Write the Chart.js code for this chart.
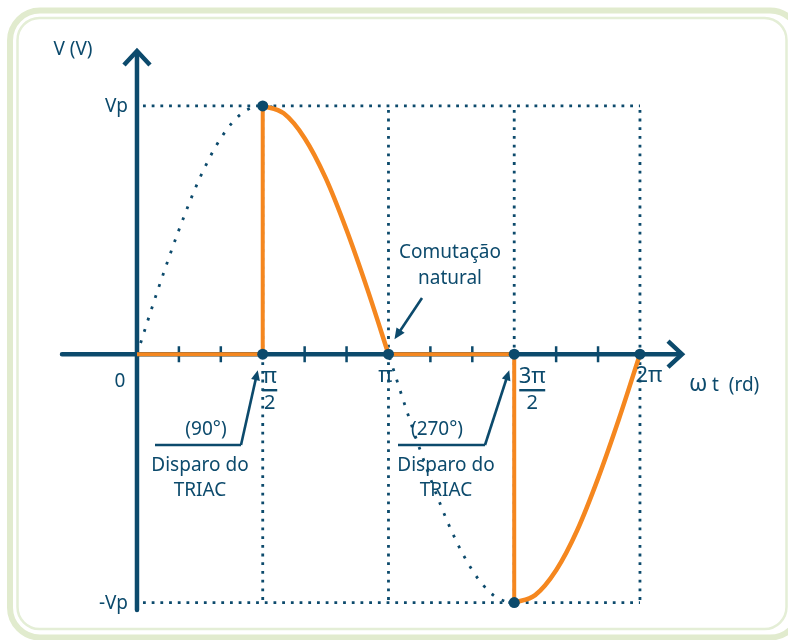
<!DOCTYPE html>
<html>
<head>
<meta charset="UTF-8">
<title>Disparo do TRIAC</title>
<script src="https://cdn.jsdelivr.net/npm/chart.js"></script>
<style>
  body { margin: 0; background: #fff; }
  #wrap { width: 788px; height: 640px; }
</style>
</head>
<body>
<div id="wrap"><canvas id="triacChart" width="788" height="640"></canvas></div>
<script>
  // ângulos em graus (passo de 15°) e tensão da rede normalizada (Vp = 1)
  const angles = [0, 15, 30, 45, 60, 75, 90, 105, 120, 135, 150, 165, 180,
                  195, 210, 225, 240, 255, 270, 285, 300, 315, 330, 345, 360];
  const sourceV = [0, 0.26, 0.5, 0.71, 0.87, 0.97, 1, 0.97, 0.87, 0.71, 0.5, 0.26, 0,
                   -0.26, -0.5, -0.71, -0.87, -0.97, -1, -0.97, -0.87, -0.71, -0.5, -0.26, 0];
  // ângulos de disparo do TRIAC
  const firingAngles = [90, 270];
  // marcas do eixo ωt
  const tickAngles = [0, 90, 180, 270, 360];
  const tickLabels = ['0', 'π/2', 'π', '3π/2', '2π'];
  const minorTicks = [30, 60, 120, 150, 210, 240, 300, 330];
  const levelValues = [1, -1];
  const levelLabels = ['Vp', '-Vp'];

  const NAVY = '#0c4a6c';
  const ORANGE = '#f5871f';
  const FONT = '"Noto Sans", "Open Sans", sans-serif';

  const pts = (from, to) => angles
    .map((a, i) => ({ x: a, y: sourceV[i] }))
    .filter(p => p.x >= from && p.x <= to);

  // tensão na carga: zero até o disparo, depois segue a rede
  const loadFlat = [];
  const loadCurve = [];
  firingAngles.forEach((fa, k) => {
    const start = k * 180;
    const vAtFire = sourceV[angles.indexOf(fa)];
    loadFlat.push([{ x: start, y: 0 }, { x: fa, y: 0 }, { x: fa, y: vAtFire }]);
    loadCurve.push(pts(fa, start + 180));
  });

  const markers = [];
  firingAngles.forEach((fa, k) => {
    markers.push({ x: fa, y: sourceV[angles.indexOf(fa)] }, { x: fa, y: 0 });
    markers.push({ x: (k + 1) * 180, y: 0 });
  });

  function dotted(ctx, x1, y1, x2, y2) {
    ctx.save();
    ctx.strokeStyle = NAVY;
    ctx.lineWidth = 2.8;
    ctx.setLineDash([2.8, 5.9]);
    ctx.beginPath();
    ctx.moveTo(x1, y1);
    ctx.lineTo(x2, y2);
    ctx.stroke();
    ctx.restore();
  }

  function arrowTo(ctx, x1, y1, x2, y2, head) {
    const ang = Math.atan2(y2 - y1, x2 - x1);
    ctx.beginPath();
    ctx.moveTo(x1, y1);
    ctx.lineTo(x2 - Math.cos(ang) * head * 0.6, y2 - Math.sin(ang) * head * 0.6);
    ctx.stroke();
    ctx.beginPath();
    ctx.moveTo(x2, y2);
    ctx.lineTo(x2 - head * Math.cos(ang - 0.42), y2 - head * Math.sin(ang - 0.42));
    ctx.lineTo(x2 - head * Math.cos(ang + 0.42), y2 - head * Math.sin(ang + 0.42));
    ctx.closePath();
    ctx.fill();
  }

  function roundRect(ctx, x, y, w, h, r) {
    ctx.beginPath();
    ctx.moveTo(x + r, y);
    ctx.arcTo(x + w, y, x + w, y + h, r);
    ctx.arcTo(x + w, y + h, x, y + h, r);
    ctx.arcTo(x, y + h, x, y, r);
    ctx.arcTo(x, y, x + w, y, r);
    ctx.closePath();
  }

  // moldura, eixos e linhas de referência
  const backdrop = {
    id: 'backdrop',
    beforeDraw(chart) {
      const ctx = chart.ctx;
      ctx.save();
      ctx.strokeStyle = '#e1ebce';
      ctx.lineWidth = 6;
      roundRect(ctx, 10, 10.5, 790, 627, 30);
      ctx.stroke();
      ctx.lineWidth = 2.5;
      ctx.strokeStyle = '#e4eed6';
      roundRect(ctx, 17.5, 18, 769, 611, 22);
      ctx.stroke();
      ctx.restore();
    },
    beforeDatasetsDraw(chart) {
      const ctx = chart.ctx;
      const xs = chart.scales.x, ys = chart.scales.y;
      const x0 = xs.getPixelForValue(0), x360 = xs.getPixelForValue(360);
      const yTop = ys.getPixelForValue(1), yBot = ys.getPixelForValue(-1);
      const y0 = ys.getPixelForValue(0);

      // grade pontilhada
      levelValues.forEach(v => {
        const y = ys.getPixelForValue(v);
        dotted(ctx, x0 + 6, y, x360, y);
      });
      tickAngles.slice(1).forEach(a => {
        const x = xs.getPixelForValue(a);
        dotted(ctx, x, yTop + 4, x, yBot);
      });

      // eixos
      ctx.save();
      ctx.strokeStyle = NAVY;
      ctx.lineWidth = 4.5;
      ctx.lineCap = 'round';
      const L = chart.chartArea.left, R = chart.chartArea.right;
      const T = chart.chartArea.top, B = chart.chartArea.bottom;
      ctx.beginPath();
      ctx.moveTo(L + 2, y0); ctx.lineTo(R - 2, y0);
      ctx.moveTo(x0, B); ctx.lineTo(x0, T + 2);
      ctx.stroke();
      ctx.lineJoin = 'miter';
      ctx.lineCap = 'butt';
      ctx.beginPath();
      ctx.moveTo(R - 15, y0 - 13); ctx.lineTo(R - 1, y0); ctx.lineTo(R - 15, y0 + 13);
      ctx.moveTo(x0 - 13, T + 15); ctx.lineTo(x0, T + 1); ctx.lineTo(x0 + 13, T + 15);
      ctx.stroke();
      ctx.lineWidth = 2.5;
      ctx.beginPath();
      minorTicks.forEach(a => {
        const x = xs.getPixelForValue(a);
        ctx.moveTo(x, y0 - 8); ctx.lineTo(x, y0 + 8);
      });
      ctx.stroke();
      ctx.restore();
    },
    afterDraw(chart) {
      const ctx = chart.ctx;
      const xs = chart.scales.x, ys = chart.scales.y;
      const y0 = ys.getPixelForValue(0);
      const f = size => size + 'px ' + FONT;
      ctx.save();
      ctx.fillStyle = NAVY;
      ctx.strokeStyle = NAVY;
      ctx.textBaseline = 'middle';
      ctx.font = f(19);

      ctx.textAlign = 'center';
      ctx.fillText('V (V)', 73, 50);

      ctx.textAlign = 'right';
      levelValues.forEach((v, i) => {
        ctx.fillText(levelLabels[i], xs.getPixelForValue(0) - 9, ys.getPixelForValue(v) + 1);
      });

      // rótulos do eixo ωt (frações empilhadas)
      tickAngles.forEach((a, i) => {
        const x = xs.getPixelForValue(a);
        const lab = tickLabels[i];
        ctx.textAlign = 'center';
        if (a === 0) {
          ctx.font = f(19);
          ctx.fillText(lab, x - 17, y0 + 27);
        } else if (lab.includes('/')) {
          const [num, den] = lab.split('/');
          const cx = x + (num.length > 1 ? 18 : 7);
          ctx.font = f(22);
          ctx.fillText(num, cx, y0 + 23);
          ctx.font = f(20);
          ctx.fillText(den, cx, y0 + 49);
          ctx.lineWidth = 2.4;
          const hw = num.length > 1 ? 13 : 7.5;
          ctx.beginPath();
          ctx.moveTo(cx - hw, y0 + 36); ctx.lineTo(cx + hw, y0 + 36);
          ctx.stroke();
        } else {
          ctx.font = f(22);
          ctx.fillText(lab, x + (a === 360 ? 9 : -3), y0 + 22);
        }
      });

      ctx.textAlign = 'left';
      ctx.font = f(23);
      ctx.fillText('ω', 689, y0 + 30);
      ctx.font = f(19);
      ctx.fillText('t  (rd)', 712, y0 + 31);

      // anotações dos disparos
      ctx.textAlign = 'center';
      ctx.lineWidth = 2.6;
      const notes = [
        { deg: '(90°)', tx: 206, lx1: 155, lx2: 241, cx: 200 },
        { deg: '(270°)', tx: 437, lx1: 398, lx2: 485, cx: 446 }
      ];
      notes.forEach((n, i) => {
        const fx = xs.getPixelForValue(firingAngles[i]);
        ctx.fillText(n.deg, n.tx, 430);
        ctx.beginPath();
        ctx.moveTo(n.lx1, 445); ctx.lineTo(n.lx2, 445);
        ctx.stroke();
        arrowTo(ctx, n.lx2, 445, fx - 5, y0 + 16, 11);
        ctx.fillText('Disparo do', n.cx, 466);
        ctx.fillText('TRIAC', n.cx, 491);
      });

      ctx.fillText('Comutação', 450, 253);
      ctx.fillText('natural', 450, 279);
      arrowTo(ctx, 422, 298, xs.getPixelForValue(180) + 6, y0 - 15, 12);
      ctx.restore();
    }
  };

  const datasets = [
    {
      data: markers,
      showLine: false,
      pointRadius: 5.5,
      pointBackgroundColor: NAVY,
      pointBorderWidth: 0
    }
  ];
  loadCurve.forEach(seg => datasets.push({
    data: seg,
    showLine: true,
    borderColor: ORANGE,
    borderWidth: 4.5,
    cubicInterpolationMode: 'monotone',
    pointRadius: 0
  }));
  loadFlat.forEach(seg => datasets.push({
    data: seg,
    showLine: true,
    borderColor: ORANGE,
    borderWidth: 4,
    tension: 0,
    borderJoinStyle: 'miter',
    pointRadius: 0
  }));
  datasets.push({
    data: pts(0, 360),
    showLine: true,
    borderColor: NAVY,
    borderWidth: 2.8,
    borderDash: [2.8, 9],
    cubicInterpolationMode: 'monotone',
    pointRadius: 0
  });

  new Chart(document.getElementById('triacChart').getContext('2d'), {
    type: 'scatter',
    data: { datasets: datasets },
    options: {
      responsive: false,
      animation: false,
      layout: { padding: { left: 60, right: 105, top: 50, bottom: 30 } },
      plugins: { legend: { display: false }, tooltip: { enabled: false } },
      scales: {
        x: { type: 'linear', min: -55.1, max: 390.8, display: false },
        y: { type: 'linear', min: -1.03, max: 1.225, display: false }
      }
    },
    plugins: [backdrop]
  });
</script>
</body>
</html>
